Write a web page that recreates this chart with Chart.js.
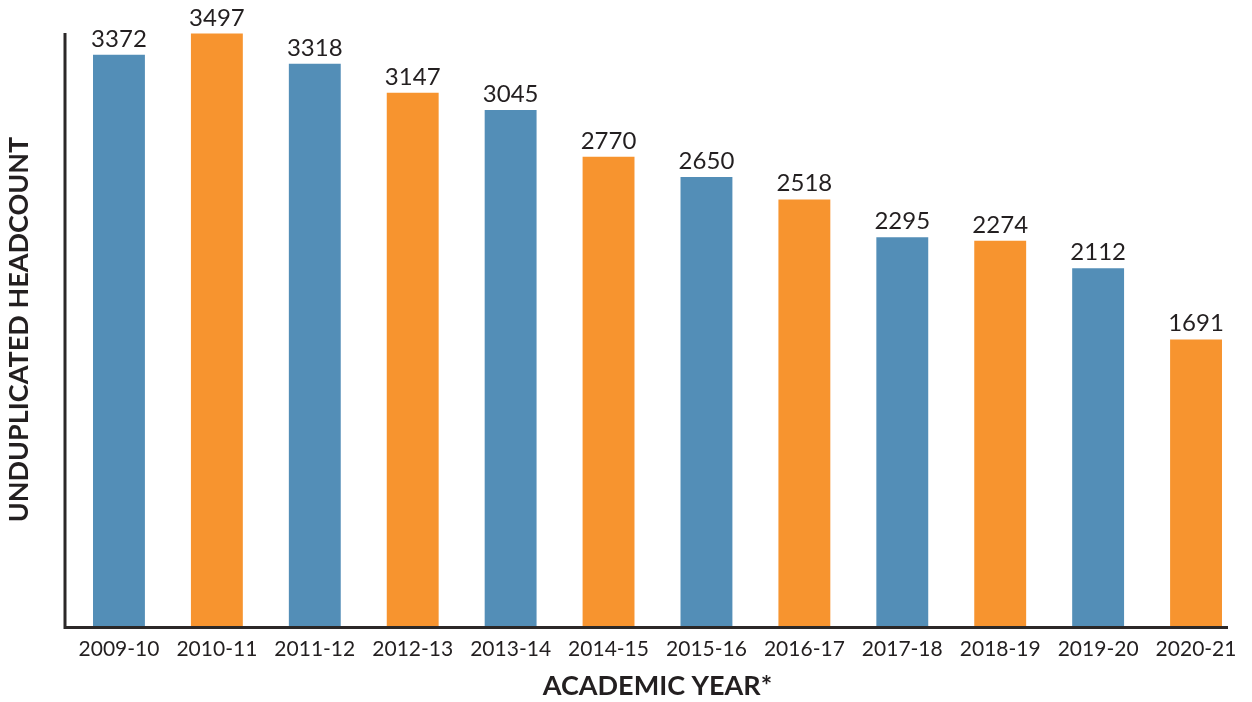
<!DOCTYPE html>
<html>
<head>
<meta charset="utf-8">
<script src="https://cdn.jsdelivr.net/npm/chart.js@4/dist/chart.umd.min.js"></script>
<style>
html,body{margin:0;padding:0;background:#fff;}
#wrap{width:1252px;height:702px;position:relative;}
</style>
</head>
<body>
<div id="wrap"><canvas id="c" width="1252" height="702"></canvas></div>
<script>
const categories = ["2009-10","2010-11","2011-12","2012-13","2013-14","2014-15","2015-16","2016-17","2017-18","2018-19","2019-20","2020-21"];
const headcount = [3372,3497,3318,3147,3045,2770,2650,2518,2295,2274,2112,1691];
const barColors = ["#538eb7","#f7942f"];
const xTitle = "ACADEMIC YEAR*";
const yTitle = "UNDUPLICATED HEADCOUNT";
const textColor = "#231f20";
const fontFamily = "Lato, 'Open Sans', sans-serif";

const valueLabels = {
  id: 'valueLabels',
  afterDatasetsDraw(chart) {
    const ctx = chart.ctx;
    const meta = chart.getDatasetMeta(0);
    ctx.save();
    ctx.fillStyle = textColor;
    ctx.font = "24px " + fontFamily;
    ctx.textAlign = 'center';
    ctx.textBaseline = 'alphabetic';
    meta.data.forEach((bar, i) => {
      ctx.fillText(String(chart.data.datasets[0].data[i]), bar.x, bar.y - 8);
    });
    ctx.restore();
  }
};

const axisLines = {
  id: 'axisLines',
  afterDatasetsDraw(chart) {
    const ctx = chart.ctx;
    const a = chart.chartArea;
    ctx.save();
    ctx.strokeStyle = "#2b2828";
    ctx.lineWidth = 3;
    ctx.beginPath();
    ctx.moveTo(a.left - 5, a.top);
    ctx.lineTo(a.left - 5, a.bottom + 1.5);
    ctx.lineTo(a.right - 17, a.bottom + 1.5);
    ctx.stroke();
    ctx.restore();
  }
};

new Chart(document.getElementById('c'), {
  type: 'bar',
  data: {
    labels: categories,
    datasets: [{
      data: headcount,
      backgroundColor: categories.map((_, i) => barColors[i % 2]),
      borderWidth: 0,
      categoryPercentage: 1,
      barPercentage: 0.53
    }]
  },
  options: {
    responsive: false,
    animation: false,
    devicePixelRatio: 1,
    layout: { padding: { top: 33, right: 7, left: 0, bottom: 0 } },
    plugins: { legend: { display: false }, tooltip: { enabled: false } },
    scales: {
      x: {
        grid: { display: false, drawTicks: false },
        border: { display: false },
        ticks: { color: textColor, font: { family: fontFamily, size: 21 }, padding: 11, maxRotation: 0, autoSkip: false },
        title: { display: true, text: xTitle, color: textColor, font: { family: fontFamily, size: 27, weight: 'bold' }, padding: { top: 0, bottom: 0 } },
        afterFit(scale) { scale.height = 76; }
      },
      y: {
        min: 0, max: 3500,
        grid: { display: false, drawTicks: false },
        border: { display: false },
        ticks: { display: false },
        title: { display: true, text: yTitle, color: textColor, font: { family: fontFamily, size: 27, weight: 'bold' }, padding: { top: 3, bottom: 0 } },
        afterFit(scale) { scale.width = 70; }
      }
    }
  },
  plugins: [valueLabels, axisLines]
});
</script>
</body>
</html>
